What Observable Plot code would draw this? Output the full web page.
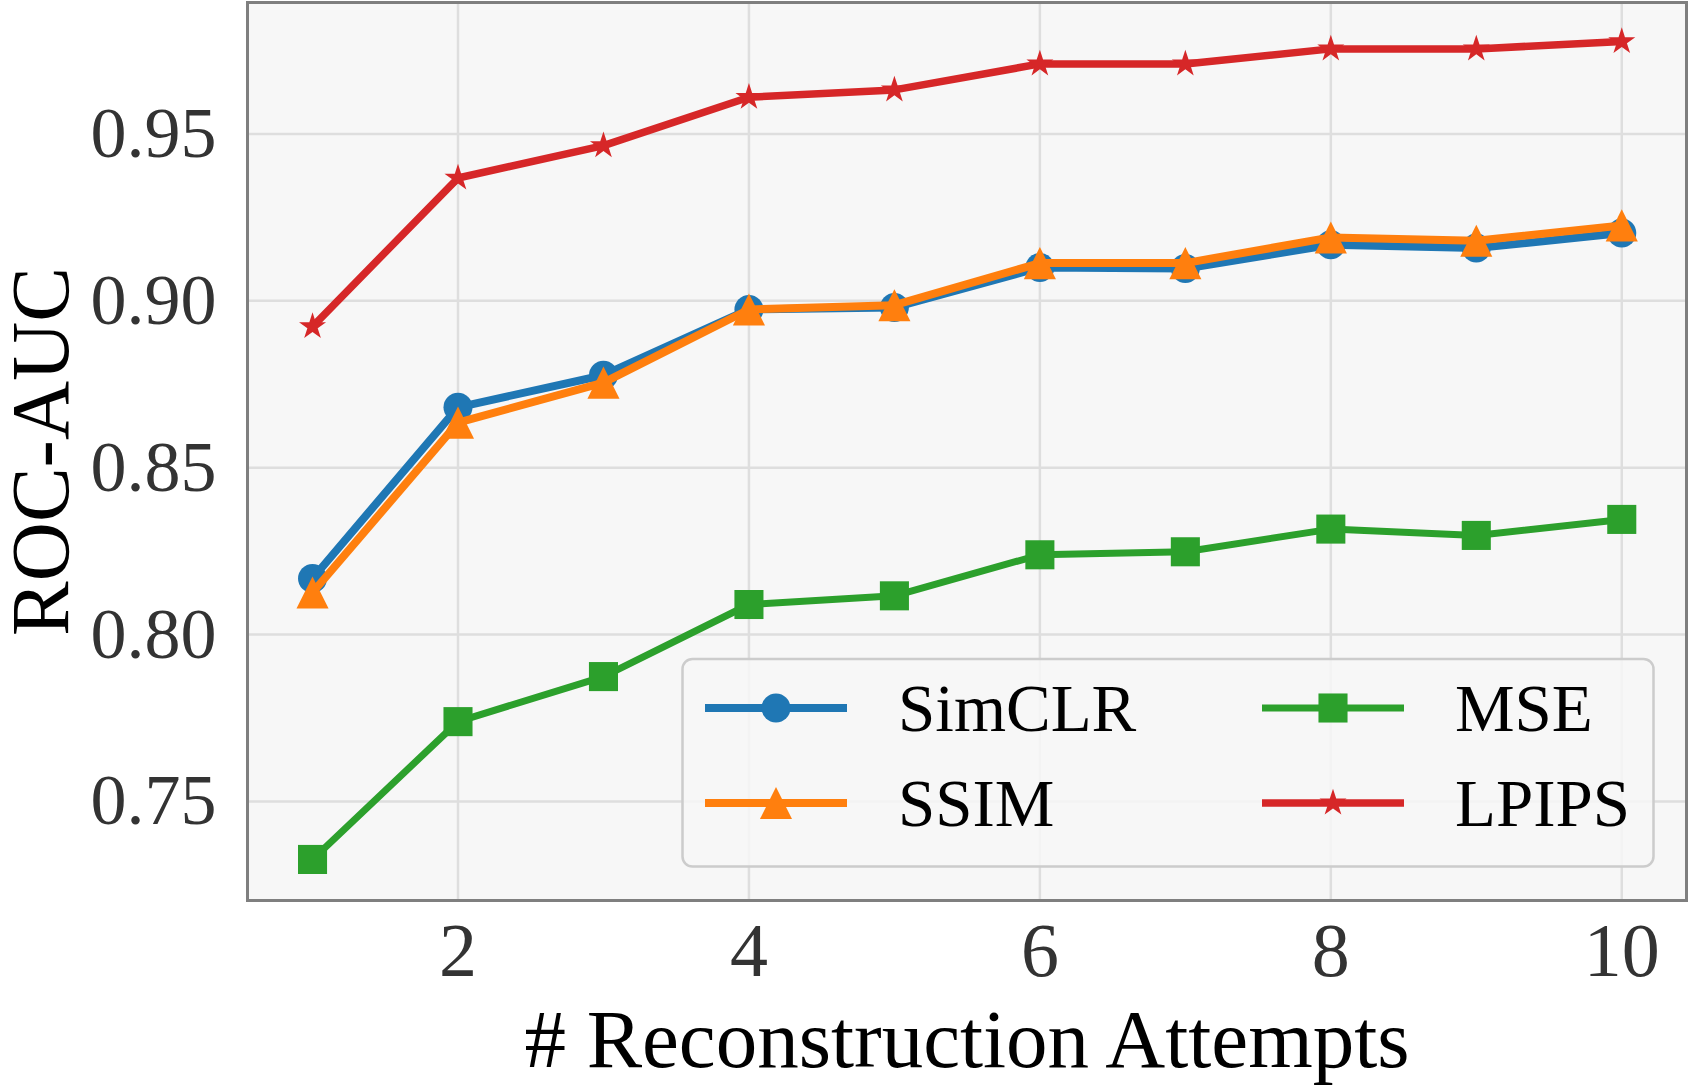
<!DOCTYPE html>
<html>
<head>
<meta charset="utf-8">
<script src="https://cdn.jsdelivr.net/npm/d3@7"></script>
<script src="https://cdn.jsdelivr.net/npm/@observablehq/plot@0.6"></script>
<style>
  html, body { margin: 0; padding: 0; background: #ffffff; }
  #chart svg { display: block; }
</style>
</head>
<body>
<div id="chart"></div>
<script>
// ---- data ----
const attempts = [1, 2, 3, 4, 5, 6, 7, 8, 9, 10];
const simclr = [0.8168, 0.8681, 0.8777, 0.8974, 0.8980, 0.9100, 0.9097, 0.9168, 0.9158, 0.9203];
const ssim   = [0.8126, 0.8635, 0.8755, 0.8974, 0.8987, 0.9113, 0.9113, 0.9190, 0.9180, 0.9226];
const mse    = [0.7326, 0.7739, 0.7874, 0.8090, 0.8116, 0.8239, 0.8248, 0.8316, 0.8297, 0.8345];
const lpips  = [0.8923, 0.9368, 0.9465, 0.9610, 0.9632, 0.9710, 0.9710, 0.9755, 0.9755, 0.9777];
const seriesNames = ["SimCLR", "SSIM", "MSE", "LPIPS"];
const xTicks = [2, 4, 6, 8, 10];
const yTicks = [0.75, 0.80, 0.85, 0.90, 0.95];

const colors = {SimCLR: "#1f77b4", SSIM: "#ff7f0e", MSE: "#2ca02c", LPIPS: "#d62728"};
// matplotlib-like "^" triangle: width equals height
const triangleUp = {
  draw(context, size) {
    const w = Math.sqrt(2 * size), h = w / 2;
    context.moveTo(0, -h);
    context.lineTo(h, h);
    context.lineTo(-h, h);
    context.closePath();
  }
};
const symbols = {SimCLR: d3.symbolCircle, SSIM: triangleUp, MSE: d3.symbolSquare, LPIPS: d3.symbolStar};
const radii = {SimCLR: 14.5, SSIM: 12.8, MSE: 16.4, LPIPS: 8.5};
const widths = {SimCLR: 8, SSIM: 8, MSE: 7, LPIPS: 7.5};

const valuesBy = {SimCLR: simclr, SSIM: ssim, MSE: mse, LPIPS: lpips};
const rows = seriesNames.flatMap(s => attempts.map((a, i) => ({series: s, x: a, y: valuesBy[s][i]})));

const W = 1688, H = 1086;
const marks = [
  Plot.frame({fill: "#f7f7f7", stroke: null}),
  Plot.gridX(xTicks, {stroke: "#dedede", strokeOpacity: 1, strokeWidth: 2.5}),
  Plot.gridY(yTicks, {stroke: "#dedede", strokeOpacity: 1, strokeWidth: 2.5}),
];
for (const s of seriesNames) {
  const d = rows.filter(r => r.series === s);
  marks.push(Plot.line(d, {x: "x", y: "y", stroke: colors[s], strokeWidth: widths[s]}));
  marks.push(Plot.dot(d, {x: "x", y: "y", symbol: () => symbols[s], r: radii[s], fill: colors[s], stroke: null}));
}
marks.push(
  Plot.frame({stroke: "#7f7f7f", strokeWidth: 3}),
  Plot.axisX(xTicks, {tickSize: 0, tickPadding: 22, fontSize: 76, fill: "#333333", label: null, tickFormat: d => String(d)}),
  Plot.axisY(yTicks, {tickSize: 0, tickPadding: 31, fontSize: 72, fill: "#333333", label: null, tickFormat: d3.format(".2f")}),
  Plot.text(["ROC-AUC"], {frameAnchor: "left", textAnchor: "middle", lineAnchor: "middle", dx: -206, rotate: -90, fontSize: 82, fill: "#000000", text: d => d}),
  Plot.text(["# Reconstruction Attempts"], {frameAnchor: "bottom", textAnchor: "middle", lineAnchor: "middle", dy: 140, fontSize: 83, fill: "#000000", text: d => d})
);

const chart = Plot.plot({
  width: W,
  height: H,
  marginLeft: 247,
  marginRight: 2,
  marginTop: 2,
  marginBottom: 186,
  x: {domain: [0.553, 10.445]},
  y: {domain: [0.7203, 0.9894]},
  symbol: {type: "identity"},
  style: {fontFamily: "'Liberation Serif', 'Times New Roman', serif", background: "#ffffff", overflow: "visible"},
  marks
});
document.getElementById("chart").appendChild(chart);

// ---- legend (drawn into the same SVG) ----
const svg = d3.select(chart);
const lg = svg.append("g");
lg.append("rect")
  .attr("x", 682.5).attr("y", 659).attr("width", 971).attr("height", 207.5)
  .attr("rx", 10).attr("ry", 10)
  .attr("fill", "#f7f7f7").attr("fill-opacity", 0.85)
  .attr("stroke", "#cccccc").attr("stroke-width", 2.5);
const legendPos = [
  {s: "SimCLR", x0: 705, y: 708},
  {s: "SSIM", x0: 705, y: 803},
  {s: "MSE", x0: 1262, y: 708},
  {s: "LPIPS", x0: 1262, y: 803}
];
for (const p of legendPos) {
  const s = p.s;
  lg.append("line")
    .attr("x1", p.x0).attr("x2", p.x0 + 142).attr("y1", p.y).attr("y2", p.y)
    .attr("stroke", colors[s]).attr("stroke-width", widths[s]);
  lg.append("path")
    .attr("transform", `translate(${p.x0 + 71},${p.y})`)
    .attr("d", d3.symbol(symbols[s], Math.PI * radii[s] * radii[s])())
    .attr("fill", colors[s]);
  lg.append("text")
    .attr("x", p.x0 + 193).attr("y", p.y)
    .attr("dy", "0.35em")
    .attr("text-anchor", "start")
    .attr("font-size", 67)
    .attr("fill", "#000000")
    .text(s);
}
</script>
</body>
</html>
